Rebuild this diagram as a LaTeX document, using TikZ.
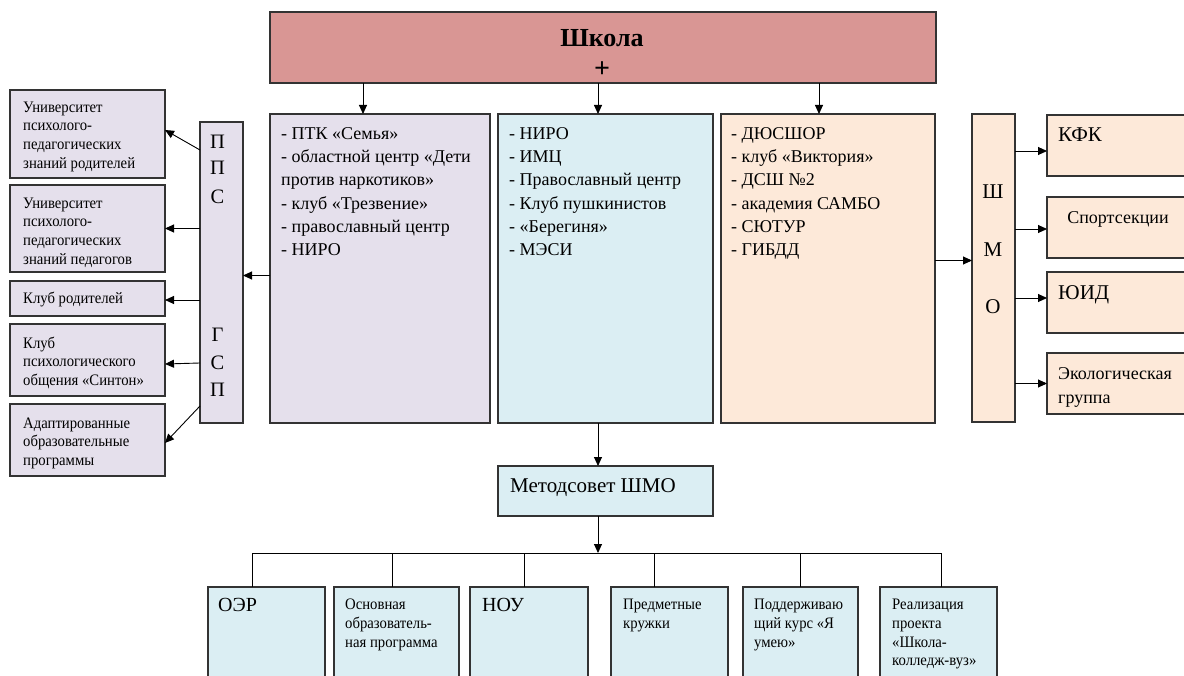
\documentclass[tikz,border=0pt]{standalone}
\usepackage{fontspec}
\setmainfont{Liberation Serif}
\newfontfamily\condfont[FakeStretch=0.92]{Liberation Serif}
\usetikzlibrary{arrows.meta}
\definecolor{school}{HTML}{D99694}
\definecolor{lav}{HTML}{E5E0EC}
\definecolor{blu}{HTML}{DBEEF3}
\definecolor{pch}{HTML}{FDE9D9}
\begin{document}
\begin{tikzpicture}[x=1pt,y=-1pt,
  box/.style={draw=black!80, line width=1.1pt, outer sep=0pt, inner sep=0pt, anchor=north west},
  arr/.style={-{Triangle[length=9pt,width=8pt]}, line width=0.9pt, black},
  ln/.style={line width=0.9pt, black},
  txt/.style={anchor=north west, inner sep=0pt, align=left},
  big/.style={font=\fontsize{18}{23.3}\selectfont},
  small/.style={font=\condfont\fontsize{16}{18.7}\selectfont},
  letter/.style={inner sep=0pt, font=\fontsize{20.5}{22}\selectfont},
]
\useasboundingbox (0,0) rectangle (1184,676);
% top
\node[box, fill=school, minimum width=666pt, minimum height=71pt] (school) at (270,12) {};
\node[inner sep=0pt, font=\bfseries\fontsize{26}{28}\selectfont] (schoolt) at (602,38) {Школа};
\node[inner sep=0pt, font=\bfseries\fontsize{28}{30}\selectfont] (plus) at (602,70) {+};
% three main boxes
\node[box, fill=lav, minimum width=220pt, minimum height=309pt] (b1) at (270,114) {};
\node[box, fill=blu, minimum width=215pt, minimum height=309pt] (b2) at (498,114) {};
\node[box, fill=pch, minimum width=214pt, minimum height=309pt] (b3) at (721,114) {};
\node[txt, big] (t1) at (281,127) {- ПТК «Семья»\\- областной центр «Дети\\против наркотиков»\\- клуб «Трезвение»\\- православный центр\\- НИРО};
\node[txt, big] (t2) at (509,127) {- НИРО\\- ИМЦ\\- Православный центр\\- Клуб пушкинистов\\- «Берегиня»\\- МЭСИ};
\node[txt, big] (t3) at (731,127) {- ДЮСШОР\\- клуб «Виктория»\\- ДСШ №2\\- академия САМБО\\- СЮТУР\\- ГИБДД};
\draw[arr] ([xshift=-17pt]b1.north |- school.south) -- ([xshift=-17pt]b1.north);
\draw[arr] ([xshift=-7.5pt]b2.north |- school.south) -- ([xshift=-7.5pt]b2.north);
\draw[arr] ([xshift=-9pt]b3.north |- school.south) -- ([xshift=-9pt]b3.north);
% PPS column
\node[box, fill=lav, minimum width=43pt, minimum height=301pt] (pps) at (200,122) {};
\node[letter] (p1) at (217.5,142) {П};
\node[letter] (p2) at (217.5,168) {П};
\node[letter] (p3) at (217.5,197) {С};
\node[letter] (p4) at (217.5,335) {Г};
\node[letter] (p5) at (217.5,363) {С};
\node[letter] (p6) at (217.5,390) {П};
\draw[arr] ([yshift=-7pt]b1.west) -- ([yshift=-7pt]b1.west -| pps.east);
% left boxes
\node[box, fill=lav, minimum width=155pt, minimum height=88pt] (lA) at (10,90) {};
\node[box, fill=lav, minimum width=155pt, minimum height=87pt] (lB) at (10,185) {};
\node[box, fill=lav, minimum width=155pt, minimum height=35pt] (lC) at (10,281) {};
\node[box, fill=lav, minimum width=155pt, minimum height=72pt] (lD) at (10,324) {};
\node[box, fill=lav, minimum width=155pt, minimum height=72pt] (lE) at (10,404) {};
\node[txt, small] (tA) at (23,101.5) {Университет\\психолого-\\педагогических\\знаний родителей};
\node[txt, small] (tB) at (23,197.5) {Университет\\психолого-\\педагогических\\знаний педагогов};
\node[txt, small] (tC) at (23,291.5) {Клуб родителей};
\node[txt, small] (tD) at (23,336.5) {Клуб\\психологического\\общения «Синтон»};
\node[txt, small] (tE) at (23,417.5) {Адаптированные\\образовательные\\программы};
\draw[arr] ([yshift=-28pt]pps.north west) -- ([yshift=4pt]lA.east);
\draw[arr] (pps.west |- lB.east) -- (lB.east);
\draw[arr] ([yshift=-1.5pt]pps.west |- lC.east) -- ([yshift=-1.5pt]lC.east);
\draw[arr] ([yshift=-3pt]pps.west |- lD.east) -- ([yshift=-4pt]lD.east);
\draw[arr] ([yshift=17pt]pps.south west) -- ([yshift=-3pt]lE.east);
% SHMO column
\node[box, fill=pch, minimum width=43pt, minimum height=308pt] (shmo) at (972,114) {};
\node[letter, font=\fontsize{21}{22}\selectfont] (s1) at (993,192) {Ш};
\node[letter, font=\fontsize{21}{22}\selectfont] (s2) at (993,250) {М};
\node[letter, font=\fontsize{21}{22}\selectfont] (s3) at (993,307) {О};
\draw[arr] ([yshift=8pt]b3.east) -- ([yshift=8pt]b3.east -| shmo.west);
% right boxes
\node[box, fill=pch, minimum width=142pt, minimum height=61pt] (r1) at (1047,115) {};
\node[box, fill=pch, minimum width=142pt, minimum height=61pt] (r2) at (1047,197) {};
\node[box, fill=pch, minimum width=142pt, minimum height=61pt] (r3) at (1047,272) {};
\node[box, fill=pch, minimum width=142pt, minimum height=61pt] (r4) at (1047,353) {};
\node[txt, font=\fontsize{21}{24}\selectfont] (tr1) at (1058,128) {КФК};
\node[inner sep=0pt, anchor=north, font=\fontsize{18}{22}\selectfont] (tr2) at (1118,211) {Спортсекции};
\node[txt, font=\fontsize{21}{24}\selectfont] (tr3) at (1058,285) {ЮИД};
\node[txt, font=\fontsize{18}{24}\selectfont] (tr4) at (1058,367) {Экологическая\\группа};
\draw[arr] ([yshift=-5.5pt]r1.west -| shmo.east) -- ([yshift=-5.5pt]r1.west);
\draw[arr] ([yshift=-1.5pt]r2.west -| shmo.east) -- ([yshift=-1.5pt]r2.west);
\draw[arr] ([yshift=4.5pt]r3.west -| shmo.east) -- ([yshift=4.5pt]r3.west);
\draw[arr] (r4.west -| shmo.east) -- (r4.west);
% Metodsovet
\node[box, fill=blu, minimum width=215pt, minimum height=50pt] (ms) at (498,466) {};
\node[txt, font=\fontsize{21}{24}\selectfont] (mst) at (510,478) {Методсовет ШМО};
\draw[arr] ([xshift=-7.5pt]b2.south) -- ([xshift=-7.5pt]b2.south |- ms.north);
\coordinate (bus) at ([xshift=-7.5pt, yshift=-37pt]ms.south);
\draw[arr] ([xshift=-7.5pt]ms.south) -- (bus);
% bottom boxes
\node[box, fill=blu, minimum width=117pt, minimum height=100pt] (c1) at (208,587) {};
\node[box, fill=blu, minimum width=125pt, minimum height=100pt] (c2) at (334,587) {};
\node[box, fill=blu, minimum width=118pt, minimum height=100pt] (c3) at (470,587) {};
\node[box, fill=blu, minimum width=117pt, minimum height=100pt] (c4) at (611,587) {};
\node[box, fill=blu, minimum width=115pt, minimum height=100pt] (c5) at (743,587) {};
\node[box, fill=blu, minimum width=117pt, minimum height=100pt] (c6) at (880,587) {};
\node[txt, font=\fontsize{20}{24}\selectfont] (ct1) at (218,598) {ОЭР};
\node[txt, small] (ct2) at (345,599) {Основная\\образователь-\\ная программа};
\node[txt, font=\fontsize{20}{24}\selectfont] (ct3) at (482,598) {НОУ};
\node[txt, small] (ct4) at (623,599) {Предметные\\кружки};
\node[txt, small] (ct5) at (754,599) {Поддерживаю\\щий курс «Я\\умею»};
\node[txt, small] (ct6) at (892,599) {Реализация\\проекта\\«Школа-\\колледж-вуз»};
\coordinate (d1) at (252,553);
\coordinate (d2) at (392,553);
\coordinate (d3) at (524,553);
\coordinate (d4) at (654,553);
\coordinate (d5) at (800,553);
\coordinate (d6) at (941,553);
\draw[ln] (d1) -- (d6);
\draw[ln] (d1) -- (d1 |- c1.north);
\draw[ln] (d2) -- (d2 |- c2.north);
\draw[ln] (d3) -- (d3 |- c3.north);
\draw[ln] (d4) -- (d4 |- c4.north);
\draw[ln] (d5) -- (d5 |- c5.north);
\draw[ln] (d6) -- (d6 |- c6.north);
\end{tikzpicture}
\end{document}
